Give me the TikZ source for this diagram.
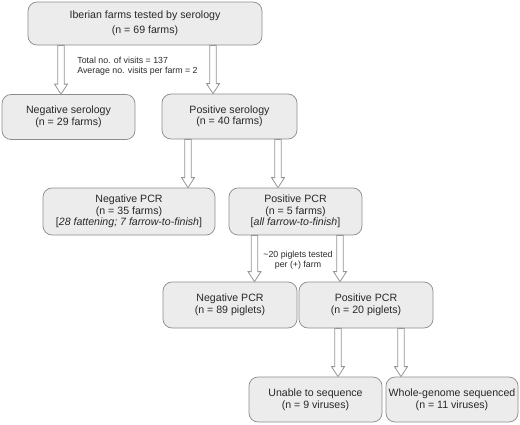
\documentclass[tikz,border=0pt]{standalone}
\usepackage{fontspec}
\setmainfont{Liberation Sans}
\usetikzlibrary{calc}

\definecolor{boxfill}{RGB}{236,236,236}
\definecolor{boxline}{RGB}{140,140,140}
\definecolor{arrline}{RGB}{150,150,150}
\definecolor{txt}{RGB}{40,40,40}

\tikzset{every picture/.style={line width=0.75pt},
	flowbox/.style={draw=boxline, fill=boxfill, rounded corners=9pt, inner sep=0pt, align=center, text=txt, font=\fontsize{10.6}{11.5}\selectfont},
	note/.style={inner sep=0pt, text=txt, font=\fontsize{8.8}{10.2}\selectfont},
	barrow/.style={draw=arrline, fill=white, line width=0.8pt, to path={let \p1=(\tikztostart), \p2=(\tikztotarget) in
		(\x1-3.2pt,\y1) -- (\x1-3.2pt,\y2+10pt) -- (\x1-6.5pt,\y2+10pt) -- (\x1,\y2) -- (\x1+6.5pt,\y2+10pt) -- (\x1+3.2pt,\y2+10pt) -- (\x1+3.2pt,\y1) -- cycle}}
}

\begin{document}
\begin{tikzpicture}[x=1pt,y=-1pt]
		\useasboundingbox (0,0) rectangle (520,424);
		
		%Boxes
		\node[flowbox, minimum width=234pt, minimum height=43pt, font=\fontsize{10.6}{15}\selectfont] (farms) at (145,23.5) {Iberian farms tested by serology\\(n = 69 farms)};
		\node[flowbox, minimum width=133pt, minimum height=45pt] (negser) at (68.5,117) {Negative serology\\(n = 29 farms)};
		\node[flowbox, minimum width=135pt, minimum height=45pt] (posser) at (229.5,116.5) {Positive serology\\(n = 40 farms)};
		\node[flowbox, minimum width=172pt, minimum height=47pt] (negpcr) at (129,211.5) {Negative PCR\\(n = 35 farms)\\{[}\textit{28 fattening; 7 farrow-to-finish}]};
		\node[flowbox, minimum width=133pt, minimum height=47pt] (pospcr) at (295.5,211.5) {Positive PCR\\(n = 5 farms)\\{[}\textit{all farrow-to-finish}]};
		\node[flowbox, minimum width=134pt, minimum height=46pt] (negpig) at (230,305) {Negative PCR\\(n = 89 piglets)};
		\node[flowbox, minimum width=134pt, minimum height=46pt] (pospig) at (366,305) {Positive PCR\\(n = 20 piglets)};
		\node[flowbox, minimum width=133pt, minimum height=45pt] (unable) at (315.5,399.5) {Unable to sequence\\(n = 9 viruses)};
		\node[flowbox, minimum width=132pt, minimum height=45pt] (whole) at (452,399.5) {Whole-genome sequenced\\(n = 11 viruses)};
		
		%Arrows
		\draw[barrow] ([xshift=-84pt]farms.south) to (negser.north);
		\draw[barrow] ([xshift=68pt]farms.south) to (posser.north);
		\draw[barrow] ([xshift=-41.5pt]posser.south) to (negpcr.north);
		\draw[barrow] ([xshift=48.5pt]posser.south) to (pospcr.north);
		\draw[barrow] ([xshift=-41pt]pospcr.south) to (negpig.north);
		\draw[barrow] ([xshift=44.5pt]pospcr.south) to (pospig.north);
		\draw[barrow] ([xshift=-28pt]pospig.south) to (unable.north);
		\draw[barrow] ([xshift=35pt]pospig.south) to (whole.north);
		
		%Notes
		\node[note, anchor=west, align=left] (visits) at (77,66) {Total no. of visits = 137\\Average no. visits per farm = 2};
		\node[note, align=center] (piglets) at (298,260) {\textasciitilde20 piglets tested\\per (+) farm};
		
	\end{tikzpicture}
\end{document}
